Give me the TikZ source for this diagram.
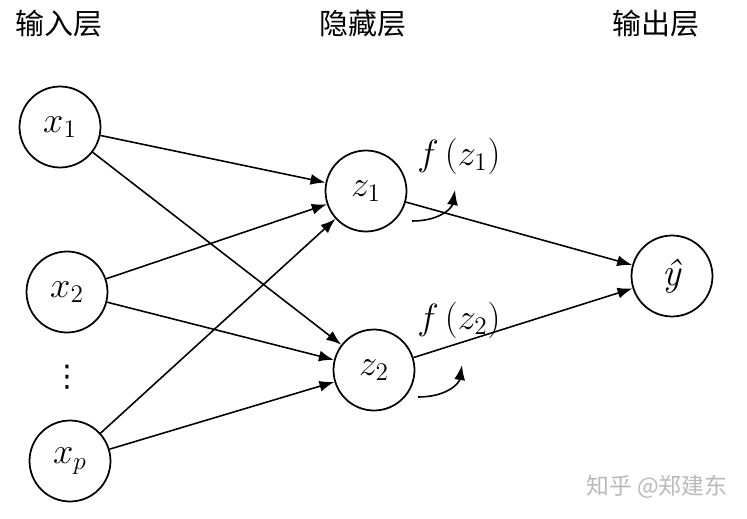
\documentclass[tikz,border=0pt]{standalone}
\usepackage{fontspec}
\usepackage{tikz}
\usetikzlibrary{arrows.meta,positioning}
\newfontfamily\cjk{Noto Sans CJK SC}
\newfontfamily\symfont{DejaVu Sans}
\definecolor{markgray}{RGB}{185,185,185}

\begin{document}
\begin{tikzpicture}[
        x=0.02cm, y=-0.02cm,
        % one circle per neuron
        neuron/.style={circle, draw, line width=1pt, minimum size=1.62cm,
            inner sep=0pt, font=\fontsize{22}{24}\selectfont},
        layer/.style={font=\cjk\fontsize{16.5}{18}\selectfont},
        link/.style={-{Latex[length=3mm,width=2.2mm]}, line width=0.9pt},
        act/.style={font=\fontsize{21}{23}\selectfont}
    ]
        \useasboundingbox (0,0) rectangle (747,518);

        % layer titles
        \node[layer] (inlabel) at (59,24) {输入层};
        \node[layer] (hidlabel) at (363,24) {隐藏层};
        \node[layer] (outlabel) at (656,24) {输出层};

        % neurons
        \node[neuron] (x1) at (60,127) {$x_1$};
        \node[neuron] (x2) at (67,292) {$x_2$};
        \node[font=\symfont\fontsize{17}{19}\selectfont] (dots) at (67,377) {⋮};
        \node[neuron] (xp) at (70,461) {$x_p$};
        \node[neuron] (z1) at (366,191) {$z_1$};
        \node[neuron] (z2) at (374,370) {$z_2$};
        \node[neuron] (yhat) at (672,276) {\textit{ŷ}};

        % Connections
        \foreach \a in {x1,x2,xp}
            \foreach \b in {z1,z2}
                \draw[link] (\a) -- (\b);
        \draw[link] (z1) -- (yhat);
        \draw[link] (z2) -- (yhat);

        % activations
        \node[act] (f1) at (459,156) {$f\,(z_1)$};
        \node[act] (f2) at (459,320) {$f\,(z_2)$};
        \coordinate (c1a) at (412,221);
        \coordinate (c1b) at (455,190);
        \coordinate (c2a) at (418,397);
        \coordinate (c2b) at (462,365);
        \draw[link] (c1a) .. controls (440,221) and (452,208) .. (c1b);
        \draw[link] (c2a) .. controls (446,397) and (459,384) .. (c2b);

        % watermark
        \node[font=\cjk\fontsize{13}{15}\selectfont, text=markgray] (mark) at (657,487) {知乎 @郑建东};
    \end{tikzpicture}
\end{document}
